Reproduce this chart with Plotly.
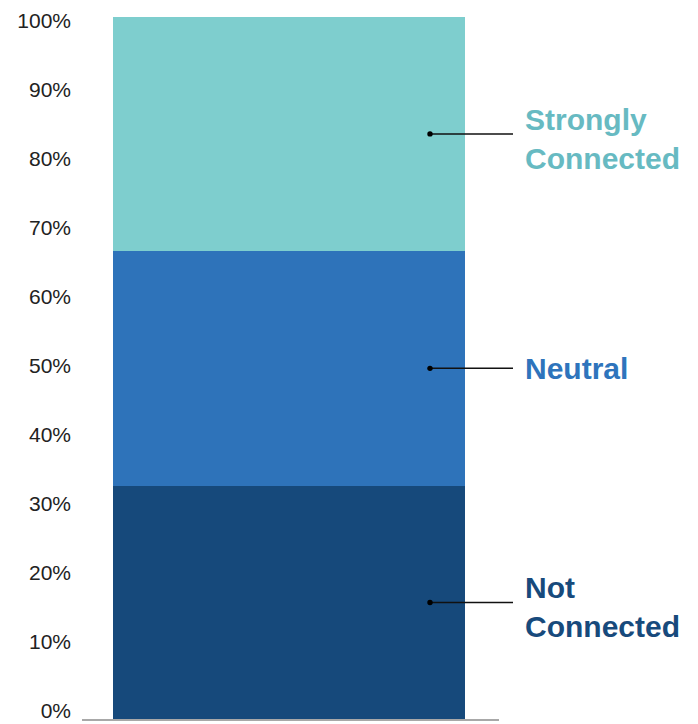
import plotly.graph_objects as go

categories = ["All"]
segments = ["Not\nConnected", "Neutral", "Strongly\nConnected"]
values = [33.2, 33.5, 33.3]
bar_colors = ["#16497B", "#2E73BA", "#7ECECE"]
text_colors = ["#174A7C", "#2E74BC", "#67BAC2"]
tick_vals = [0, 10, 20, 30, 40, 50, 60, 70, 80, 90, 100]
tick_text = [f"{v}%" for v in tick_vals]

fig = go.Figure()
for name, v, c in zip(segments, values, bar_colors):
    fig.add_trace(go.Bar(x=categories, y=[v], name=name.replace("\n", " "),
                         marker=dict(color=c, line=dict(width=0)), width=0.844,
                         hoverinfo="skip"))

# invisible trace carrying the tick-label axis
fig.add_trace(go.Scatter(x=categories, y=[50], yaxis="y2", mode="markers",
                         marker=dict(opacity=0), hoverinfo="skip", showlegend=False))

# callout lines, dots and labels
cum = 0
dot_x = (430 - 82) / 417
line_end = (513 - 82) / 417
text_x = (523 - 82) / 417
for name, v, tc in zip(segments, values, text_colors):
    mid = cum + v / 2
    cum += v
    fig.add_shape(type="line", xref="paper", yref="y", x0=dot_x, x1=line_end,
                  y0=mid, y1=mid, line=dict(color="#111111", width=1.5))
    fig.add_shape(type="circle", xref="paper", yref="y", xsizemode="pixel", ysizemode="pixel",
                  xanchor=dot_x, yanchor=mid, x0=-2.7, x1=2.7, y0=-2.7, y1=2.7,
                  fillcolor="#000", line=dict(width=0))
    two = "\n" in name
    fig.add_annotation(xref="paper", yref="y", x=text_x, y=mid,
                       text="<b>" + name.replace("\n", "<br>") + "</b>",
                       showarrow=False, xanchor="left", yanchor="middle", align="left",
                       yshift=-5 if two else 0,
                       font=dict(family="Liberation Sans, Arial, sans-serif", size=30, color=tc))

fig.update_layout(
    barmode="stack",
    width=698, height=724,
    margin=dict(l=82, r=199, t=17, b=5),
    paper_bgcolor="white", plot_bgcolor="white",
    showlegend=False,
    bargap=0,
    xaxis=dict(range=[-0.496, 0.504], showticklabels=False, showgrid=False, zeroline=False,
               showline=True, linecolor="#A8A8A8", linewidth=2, ticks="", automargin=False),
    yaxis=dict(range=[0, 100], showticklabels=False, showgrid=False, automargin=False,
               zeroline=False, showline=False, ticks=""),
    yaxis2=dict(overlaying="y", side="left", anchor="x", range=[-1.2, 100.58],
                tickvals=tick_vals, ticktext=tick_text, showgrid=False, automargin=False,
                zeroline=False, showline=False, ticks="", ticklabelstandoff=10,
                ticklabeloverflow="allow",
                tickfont=dict(family="Liberation Sans, Arial, sans-serif", size=21, color="#222")),
)

fig.write_html("out.html")
